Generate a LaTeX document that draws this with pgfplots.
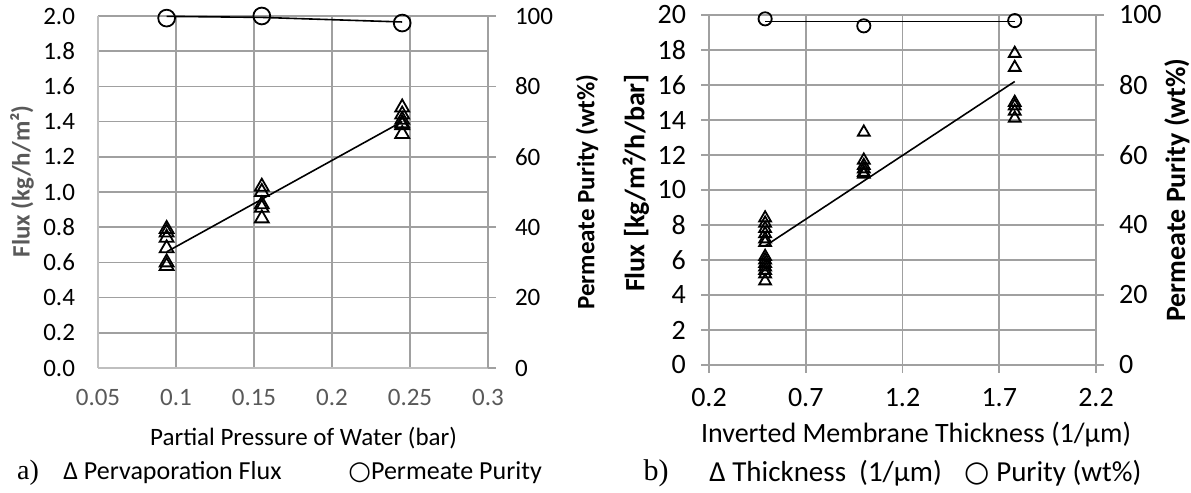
\documentclass[border=0pt]{standalone}
\usepackage{fontspec}
\setmainfont{Carlito}
\newfontfamily\serifabc{Liberation Serif}
\newfontfamily\dejavu{DejaVu Sans}
\usepackage{pgfplots}
\pgfplotsset{compat=1.18}
\definecolor{gridgray}{HTML}{A0A0A0}
\definecolor{axgray}{HTML}{BFBFBF}
\definecolor{txtgray}{HTML}{595959}

\newcommand{\fsa}{\fontsize{12.5}{14}\selectfont}
\newcommand{\fsb}{\fontsize{14}{16}\selectfont}

\pgfplotsset{
 base/.style={
 scale only axis, anchor=south west,
 /pgf/number format/assume math mode=true,
 grid style={draw=gridgray, line width=0.8pt},
 axis line style={draw=axgray, line width=0.8pt},
 tick style={draw=gridgray, line width=0.8pt},
 },
 pa/.style={base, at={(49pt,62.5pt)}, width=195pt, height=176pt,
 xmin=0.05, xmax=0.3, tick label style={font=\fsa}, label style={font=\fsa}},
 pb/.style={base, at={(354.5pt,64pt)}, width=193.5pt, height=175pt,
 xmin=0.2, xmax=2.2, tick label style={font=\fsb}, label style={font=\fsb}},
 flux/.style={only marks, mark=triangle, mark options={line width=0.9pt, draw=black}},
 pur/.style={only marks, mark=o, mark options={line width=0.9pt, draw=black}},
 trend/.style={black, line width=0.8pt, no marks},
}

\begin{document}
\begin{tikzpicture}
\useasboundingbox (0,0) rectangle (595.5pt,246.5pt);

% ===== panel a: partial pressure =====
\begin{axis}[pa, ymin=0, ymax=2,
 xtick={0.05,0.1,0.15,0.2,0.25,0.3},
 xticklabels={0.05,0.1,0.15,0.2,0.25,0.3},
 ytick={0,0.2,0.4,0.6,0.8,1.0,1.2,1.4,1.6,1.8,2.0},
 yticklabel={\pgfmathprintnumber[fixed,fixed zerofill,precision=1]{\tick}},
 grid=major, axis x line*=bottom, axis y line*=left,
 major tick length=0pt,
 xticklabel style={text=txtgray, yshift=-7pt},
 yticklabel style={xshift=-8pt},
 ylabel={\textbf{Flux (kg/h/m²)}},
 ylabel style={text=txtgray, at={(axis description cs:-0.195,0.53)}, anchor=center, rotate=0},
 xlabel={Partial Pressure of Water (bar)},
 xlabel style={at={(axis description cs:0.527,-0.199)}, anchor=center},
]
\addplot[flux, mark size=4pt] coordinates {
 (0.094,0.79)(0.094,0.77)(0.094,0.74)(0.094,0.68)(0.094,0.60)(0.094,0.58)
 (0.155,1.03)(0.155,1.00)(0.155,0.93)(0.155,0.91)(0.155,0.85)
 (0.245,1.48)(0.245,1.44)(0.245,1.41)(0.245,1.39)(0.245,1.38)(0.245,1.33)};
\addplot[trend] coordinates {(0.094,0.66)(0.245,1.40)};
\end{axis}

\begin{axis}[pa, ymin=0, ymax=100,
 axis x line=none, axis y line*=right,
 ytick={0,20,40,60,80,100},
 tick align=outside, major tick length=4pt,
 axis line style={draw=gridgray},
 yticklabel style={xshift=6pt},
 ylabel={\textbf{Permeate Purity (wt\%)}},
 ylabel style={at={(axis description cs:1.254,0.5)}, anchor=center, rotate=0},
 clip=false,
]
\addplot[pur, mark size=4.2pt] coordinates {(0.094,99.4)(0.155,100)(0.245,98.0)};
\addplot[trend] coordinates {(0.094,99.9)(0.155,99.6)(0.245,98.3)};
\end{axis}

% ===== panel b: inverted thickness =====
\begin{axis}[pb, ymin=0, ymax=20,
 xtick={0.2,0.7,1.2,1.7,2.2},
 xticklabel={\pgfmathprintnumber[fixed,fixed zerofill,precision=1]{\tick}},
 ytick={0,2,...,20},
 grid=major, axis x line*=bottom, axis y line*=left,
 tick align=outside, major tick length=4pt,
 axis line style={draw=gridgray},
 xticklabel style={yshift=-4pt},
 yticklabel style={xshift=-4pt},
 ylabel={\textbf{Flux [kg/m²/h/bar]}},
 ylabel style={at={(axis description cs:-0.189,0.52)}, anchor=center, rotate=0},
 xlabel={Inverted Membrane Thickness (1/µm)},
 xlabel style={at={(axis description cs:0.535,-0.2)}, anchor=center},
]
\addplot[flux, mark size=3.4pt] coordinates {
 (0.49,8.4)(0.49,8.1)(0.49,7.8)(0.49,7.5)(0.49,7.2)(0.49,7.0)
 (0.49,6.2)(0.49,6.0)(0.49,5.8)(0.49,5.6)(0.49,5.4)(0.49,5.2)(0.49,4.8)
 (1.0,13.3)(1.0,11.7)(1.0,11.4)(1.0,11.2)(1.0,11.0)(1.0,10.9)
 (1.78,17.8)(1.78,17.0)(1.78,15.0)(1.78,14.8)(1.78,14.5)(1.78,14.1)};
\addplot[trend] coordinates {(0.49,6.8)(1.78,16.2)};
\end{axis}

\begin{axis}[pb, ymin=0, ymax=100,
 axis x line=none, axis y line*=right,
 ytick={0,20,40,60,80,100},
 tick align=outside, major tick length=4pt,
 axis line style={draw=gridgray},
 yticklabel style={xshift=4pt},
 ylabel={\textbf{Permeate Purity (wt\%)}},
 ylabel style={at={(axis description cs:1.209,0.5)}, anchor=center, rotate=0},
 clip=false,
]
\addplot[pur, mark size=3.3pt] coordinates {(0.49,98.9)(1.0,96.9)(1.78,98.4)};
\addplot[trend] coordinates {(0.49,98.1)(1.78,98.1)};
\end{axis}

% legends below the panels
\node[font=\serifabc\fontsize{14}{16}\selectfont] at (14pt,10pt) {a)};
\node[anchor=west, font=\fontsize{13}{15}\selectfont, inner sep=0pt] at (31.5pt,10pt) {Δ Pervaporation Flux};
\node[anchor=west, font=\fontsize{13}{15}\selectfont, inner sep=0pt] at (174pt,10pt) {{\dejavu ○}Permeate Purity};
\node[font=\serifabc\fontsize{15}{17}\selectfont] at (328pt,10pt) {b)};
\node[anchor=west, font=\fontsize{14.5}{16}\selectfont, inner sep=0pt] at (354.5pt,10pt) {Δ Thickness~ (1/µm)};
\node[anchor=west, font=\fontsize{14.5}{16}\selectfont, inner sep=0pt] at (482pt,10pt) {{\dejavu ○} Purity (wt\%)};
\end{tikzpicture}
\end{document}
